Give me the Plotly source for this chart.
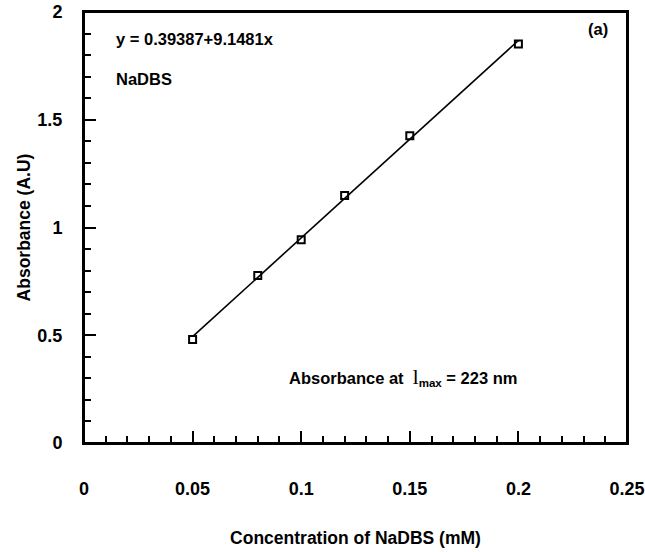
import numpy as np
import plotly.graph_objects as go

# Calibration data for NaDBS (absorbance at 223 nm)
conc_mM = [0.05, 0.08, 0.10, 0.12, 0.15, 0.20]
absorbance = [0.48, 0.777, 0.943, 1.148, 1.426, 1.852]

x_ticks = [0, 0.05, 0.1, 0.15, 0.2, 0.25]
x_tick_text = ["0", "0.05", "0.1", "0.15", "0.2", "0.25"]
y_ticks = [0, 0.5, 1, 1.5, 2]
y_tick_text = ["0", "0.5", "1", "1.5", "2"]

# Least-squares calibration line through the measured points
slope, intercept = np.polyfit(conc_mM, absorbance, 1)
fit_x = [min(conc_mM), max(conc_mM)]
fit_y = [intercept + slope * v for v in fit_x]

FONT = "Liberation Sans, Arial, sans-serif"

fig = go.Figure()
fig.add_trace(go.Scatter(x=fit_x, y=fit_y, mode="lines",
                         line=dict(color="black", width=1.6),
                         showlegend=False, hoverinfo="skip"))
fig.add_trace(go.Scatter(x=conc_mM, y=absorbance, mode="markers",
                         marker=dict(symbol="square-open", size=7,
                                     color="black", line=dict(width=2)),
                         showlegend=False))

axis_common = dict(
    showgrid=False, zeroline=False, showline=True, linecolor="black",
    linewidth=2, mirror=True, ticks="inside", tickcolor="black",
    tickwidth=1.5, ticklen=12, automargin=False,
    tickfont=dict(family=FONT, size=18, color="black", weight="bold"),
    title_font=dict(family=FONT, size=17.5, color="black", weight="bold"),
)

fig.update_xaxes(range=[0, 0.25], tickvals=x_ticks, ticktext=x_tick_text,
                 minor=dict(dtick=0.01, ticks="inside", ticklen=7,
                            tickcolor="black", tickwidth=1.5),
                 ticklabelstandoff=28,
                 title=dict(text="Concentration of NaDBS (mM)", standoff=34),
                 **axis_common)
fig.update_yaxes(range=[0, 2], tickvals=y_ticks, ticktext=y_tick_text,
                 minor=dict(dtick=0.1, ticks="inside", ticklen=7,
                            tickcolor="black", tickwidth=1.5),
                 ticklabelstandoff=16,
                 title=dict(text="Absorbance (A.U)", standoff=2),
                 **axis_common)

# Frame around the plotting area
fig.add_shape(type="rect", xref="paper", yref="paper",
              x0=0, x1=1, y0=0, y1=1,
              line=dict(color="black", width=2), layer="above")

ann_font = dict(family=FONT, size=16.5, color="black", weight="bold")
fig.add_annotation(x=0.0138, y=1.875, xref="x", yref="y", xanchor="left",
                   text="y = 0.39387+9.1481x", showarrow=False, font=ann_font)
fig.add_annotation(x=0.0138, y=1.69, xref="x", yref="y", xanchor="left",
                   text="NaDBS", showarrow=False, font=ann_font)
fig.add_annotation(x=0.2365, y=1.92, xref="x", yref="y", xanchor="center",
                   text="(a)", showarrow=False, font=ann_font)
fig.add_annotation(
    x=0.0935, y=0.305, xref="x", yref="y", xanchor="left",
    text=("Absorbance at  <span style='font-family:Liberation Serif;"
          "font-weight:normal;font-size:21px'>l</span>"
          "<sub>max</sub> = 223 nm"),
    showarrow=False, font=ann_font)

fig.update_layout(
    width=645, height=552,
    margin=dict(l=84, r=18, t=12, b=109),
    plot_bgcolor="white", paper_bgcolor="white",
)

fig.write_html("out.html")
